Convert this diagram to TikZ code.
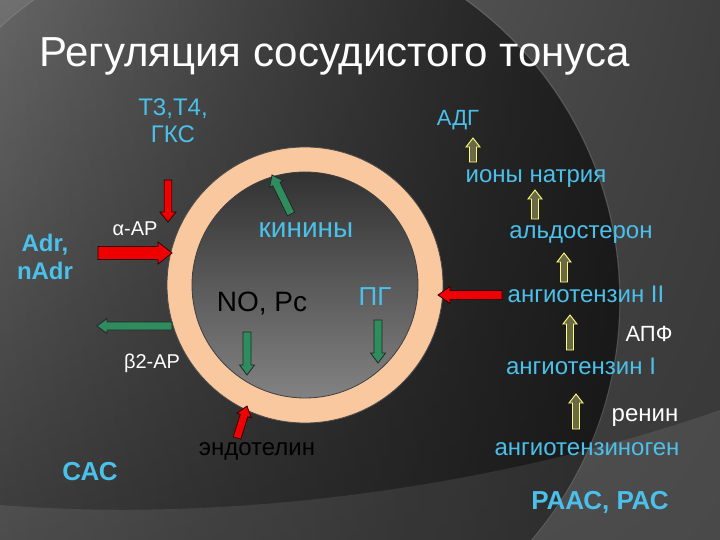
\documentclass[tikz,border=0pt]{standalone}
\usepackage{fontspec}
\setmainfont{Liberation Sans}
\usetikzlibrary{calc,shadings,fadings}
\definecolor{txtblue}{RGB}{75,192,234}
\definecolor{ringc}{RGB}{250,200,158}
\definecolor{redar}{RGB}{238,0,0}
\definecolor{greenar}{RGB}{46,140,95}
\definecolor{yelline}{RGB}{255,255,120}
\definecolor{yelfill}{RGB}{105,105,70}
\definecolor{bgul}{RGB}{112,112,112}
\definecolor{bgur}{RGB}{62,62,62}
\definecolor{bgll}{RGB}{66,66,66}
\definecolor{bglr}{RGB}{56,56,56}
\definecolor{intop}{RGB}{50,50,50}
\definecolor{inbot}{RGB}{130,130,130}
\newcommand\blk[6]{%
  \coordinate (neck) at ($(#3)!#6!(#2)$);
  \draw[#1] ($(#2)!#4!90:(#3)$) -- ($(neck)!#4!-90:(#2)$) -- ($(neck)!#5!-90:(#2)$) -- (#3)
    -- ($(neck)!#5!90:(#2)$) -- ($(neck)!#4!90:(#2)$) -- ($(#2)!#4!-90:(#3)$) -- cycle;}
\tikzset{
  fs/.style={font=\fontsize{#1}{#1}\selectfont},
  bl/.style={text=txtblue, inner sep=0pt, anchor=base},
  wh/.style={text=white, inner sep=0pt, anchor=base},
  bk/.style={text=black, inner sep=0pt, anchor=base},
  redarrow/.style={fill=redar, draw=black!80!red, line width=0.8pt, line join=miter},
  greenarrow/.style={fill=greenar, draw=black!85, line width=0.8pt, line join=miter},
  yelarrow/.style={fill=yelfill, draw=yelline, line width=0.9pt, line join=miter},
}
\begin{document}
\begin{tikzpicture}[x=1pt,y=-1pt]
\useasboundingbox (0,0) rectangle (720,540);
% background
\shade[upper left=bgul, upper right=bgur, lower left=bgll, lower right=bglr]
  (0,0) rectangle (720,540);
\fill[black, opacity=0.6, path fading=west] (250,300) circle[radius=370];
\draw[white, opacity=0.12, line width=0.8pt] (250,300) circle[radius=370];
\fill[white, opacity=0.09] (0,505) .. controls (250,525) and (520,480) .. (720,410) -- (720,540) -- (0,540) -- cycle;
% vessel ring
\fill[ringc] (305,285) circle[radius=138];
\draw[black!70, line width=0.8pt] (305,285) circle[radius=138];
\shade[top color=intop, bottom color=inbot] (305,285) circle[radius=113];
\draw[black!75, line width=0.8pt] (305,285) circle[radius=113];
% title
\node[text=white, inner sep=0pt, anchor=base west, fs=42] (title) at (39,67) {Регуляция сосудистого тонуса};
% left labels
\node[bl, fs=24, align=center] (t34) at (173,143) {Т3,Т4,\\[3pt]ГКС};
\node[wh, fs=20] (aar) at (135,236) {α-АР};
\node[bl, font=\bfseries\fontsize{24}{28}\selectfont, align=center] (adr) at (45,279) {Adr,\\nAdr};
\node[wh, fs=20] (bar) at (152,368) {β2-АР};
\node[bl, font=\bfseries\fontsize{26}{26}\selectfont] (sas) at (90,480) {САС};
% inside labels
\node[bl, fs=28] (kin) at (306,237) {кинины};
\node[bk, fs=28] (no) at (262,311) {NO, Рс};
\node[bl, fs=26] (pg) at (375,305) {ПГ};
\node[bk, fs=24] (endo) at (257,455) {эндотелин};
% right column
\node[bl, fs=22] (adg) at (458,126) {АДГ};
\node[bl, fs=24] (na) at (536,183) {ионы натрия};
\node[bl, fs=24] (ald) at (581,239) {альдостерон};
\node[bl, fs=24] (at2) at (586,302) {ангиотензин II};
\node[wh, fs=22] (apf) at (649,341) {АПФ};
\node[bl, fs=24] (at1) at (581,374) {ангиотензин I};
\node[wh, fs=24] (ren) at (645,421) {ренин};
\node[bl, fs=24] (agen) at (587,455) {ангиотензиноген};
\node[bl, font=\bfseries\fontsize{26}{26}\selectfont] (raas) at (600,509) {РААС, РАС};
% arrow end points
\coordinate (t34a) at (168,180); \coordinate (t34b) at (168,222);
\coordinate (aara) at (98,253);  \coordinate (aarb) at (172,253);
\coordinate (bara) at (172,326); \coordinate (barb) at (97,326);
\coordinate (kina) at (291,214); \coordinate (kinb) at (272,175);
\coordinate (noa) at (247,332);  \coordinate (nob) at (247,375);
\coordinate (pga) at (378,320);  \coordinate (pgb) at (378,363);
\coordinate (enda) at (237,438); \coordinate (endb) at (247,406);
\coordinate (at2a) at (502,295); \coordinate (at2b) at (438,295);
\coordinate (y1a) at (473,162); \coordinate (y1b) at (473,138);
\coordinate (y2a) at (535,219); \coordinate (y2b) at (535,190);
\coordinate (y3a) at (564,282); \coordinate (y3b) at (564,253);
\coordinate (y4a) at (570,350); \coordinate (y4b) at (570,315);
\coordinate (y5a) at (576,429); \coordinate (y5b) at (576,394);
% block arrows
\blk{redarrow}{t34a}{t34b}{3.8pt}{8pt}{10pt}
\blk{redarrow}{aara}{aarb}{6.5pt}{11pt}{14pt}
\blk{greenarrow}{bara}{barb}{4pt}{7.5pt}{10pt}
\blk{greenarrow}{kina}{kinb}{4pt}{7.5pt}{10pt}
\blk{greenarrow}{noa}{nob}{4pt}{7.5pt}{10pt}
\blk{greenarrow}{pga}{pgb}{4pt}{7.5pt}{10pt}
\blk{redarrow}{enda}{endb}{4pt}{7.5pt}{10pt}
\blk{redarrow}{at2a}{at2b}{4.5pt}{8.5pt}{12pt}
\blk{yelarrow}{y1a}{y1b}{3.5pt}{7pt}{9pt}
\blk{yelarrow}{y2a}{y2b}{3.5pt}{7pt}{9pt}
\blk{yelarrow}{y3a}{y3b}{3.5pt}{7pt}{9pt}
\blk{yelarrow}{y4a}{y4b}{3.5pt}{7pt}{9pt}
\blk{yelarrow}{y5a}{y5b}{3.5pt}{7pt}{9pt}
\end{tikzpicture}
\end{document}
